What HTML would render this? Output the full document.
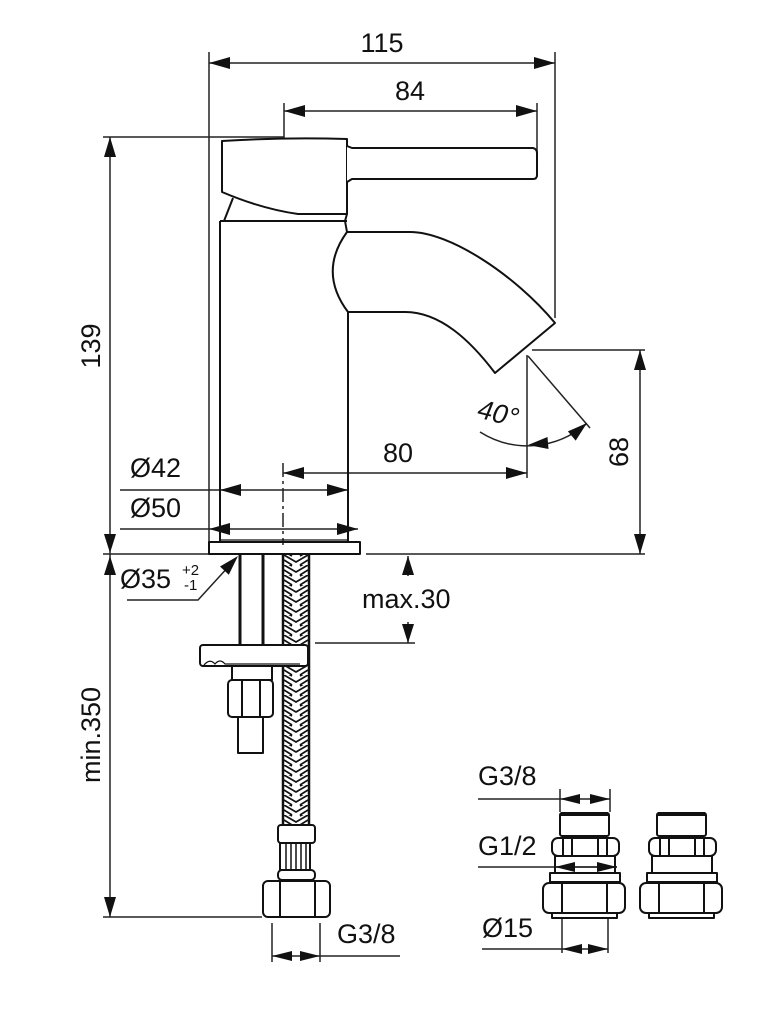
<!DOCTYPE html>
<html><head><meta charset="utf-8"><style>
html,body{margin:0;padding:0;background:#fff;}
svg{display:block;}
text{font-family:"Liberation Sans",Arial,sans-serif;fill:#111;}
</style></head><body>
<svg width="780" height="1024" viewBox="0 0 780 1024" xmlns="http://www.w3.org/2000/svg">
<defs>
<pattern id="braid" x="284" y="555" width="24" height="10" patternUnits="userSpaceOnUse">
<rect width="24" height="10" fill="#fff"/>
<path d="M0,0 L12,7 L24,0 M0,5 L8,10 M24,5 L16,10 M-1,-4 L8,1 M25,-4 L16,1" stroke="#111" stroke-width="1.7" fill="none"/>
</pattern>
</defs>
<g fill="none" stroke="#222" stroke-width="1.5">
<!-- 115 dim -->
<line x1="209" y1="52" x2="209" y2="542"/>
<line x1="555" y1="52" x2="555" y2="318"/>
<line x1="209" y1="63" x2="555" y2="63"/>
<!-- 84 dim -->
<line x1="284" y1="103" x2="284" y2="139"/>
<line x1="537" y1="103" x2="537" y2="177"/>
<line x1="284" y1="111" x2="537" y2="111"/>
<!-- 139 / min350 -->
<line x1="103" y1="137" x2="284" y2="137"/>
<line x1="110" y1="137" x2="110" y2="917"/>
<line x1="103" y1="554" x2="209" y2="554"/>
<line x1="103" y1="917" x2="262" y2="917"/>
<!-- ground right -->
<line x1="366" y1="554" x2="645" y2="554"/>
<!-- 68 -->
<line x1="532" y1="350" x2="645" y2="350"/>
<line x1="640" y1="350" x2="640" y2="554"/>
<!-- 40 deg -->
<line x1="527" y1="355" x2="527" y2="478"/>
<line x1="528" y1="356" x2="590" y2="428"/>
<path d="M480,432 A89,89 0 0,0 586,424"/>
<!-- 80 -->
<line x1="283" y1="473" x2="527" y2="473"/>
<line x1="283" y1="463" x2="283" y2="545" stroke-dasharray="14,4,3,4"/>
<!-- Ø42 Ø50 -->
<line x1="120" y1="490" x2="348" y2="490"/>
<line x1="120" y1="529" x2="358" y2="529"/>
<!-- Ø35 leader -->
<polyline points="127,600 198,600 230,565"/>
<!-- max30 -->
<line x1="315" y1="643" x2="415" y2="643"/>
<line x1="408" y1="556" x2="408" y2="576"/>
<line x1="408" y1="622" x2="408" y2="643"/>
<!-- G3/8 bottom -->
<line x1="272" y1="923" x2="272" y2="962"/>
<line x1="320" y1="923" x2="320" y2="962"/>
<line x1="272" y1="956" x2="400" y2="956"/>
<!-- right fittings dims -->
<line x1="478" y1="799" x2="610" y2="799"/>
<line x1="560" y1="789" x2="560" y2="812"/>
<line x1="610" y1="789" x2="610" y2="812"/>
<line x1="478" y1="867" x2="617" y2="867"/>
<line x1="482" y1="949" x2="608" y2="949"/>
<line x1="562" y1="918" x2="562" y2="953"/>
<line x1="608" y1="918" x2="608" y2="953"/>
</g>

<!-- arrowheads -->
<g fill="#111" stroke="none">
<polygon points="209,63 230,57 230,69"/>
<polygon points="555,63 534,57 534,69"/>
<polygon points="284,111 305,105 305,117"/>
<polygon points="537,111 516,105 516,117"/>
<polygon points="110,137 104,157 116,157"/>
<polygon points="110,553 104,534 116,534"/>
<polygon points="110,556 104,575 116,575"/>
<polygon points="110,917 104,897 116,897"/>
<polygon points="640,350 634,370 646,370"/>
<polygon points="640,554 634,534 646,534"/>
<polygon points="528,445 547.5,437 548.5,449"/>
<polygon points="587,423 575.7,440.6 567.9,431.4"/>
<polygon points="283,473 304,467 304,479"/>
<polygon points="527,473 506,467 506,479"/>
<polygon points="220,490 241,484 241,496"/>
<polygon points="348,490 327,484 327,496"/>
<polygon points="209,529 230,523 230,535"/>
<polygon points="358,529 337,523 337,535"/>
<polygon points="238,556 228.8,574.7 220,566.5"/>
<polygon points="408,556 402,575 414,575"/>
<polygon points="408,643 402,624 414,624"/>
<polygon points="272,956 292,951 292,961"/>
<polygon points="320,956 300,951 300,961"/>
<polygon points="560,799 580,794 580,804"/>
<polygon points="610,799 590,794 590,804"/>
<polygon points="562,949 582,944 582,954"/>
<polygon points="608,949 588,944 588,954"/>
</g>

<!-- faucet body -->
<g fill="none" stroke="#111" stroke-width="2" stroke-linejoin="round">
<path d="M222,141 Q285,137 347,139 L347,214 L298,214 Q262,209 222,192 Z" fill="#fff"/>
<path d="M347,146 L352,148 L533,148 Q537,149 537,153 L537,175 Q537,179 533,179 L352,179 L347,182" fill="#fff"/>
<line x1="233" y1="198" x2="224" y2="221"/>
<line x1="220" y1="221" x2="347" y2="221"/>
<path d="M347,214 L345,221 L347,232"/>
<line x1="220" y1="221" x2="220" y2="542"/>
<line x1="348" y1="312" x2="348" y2="542"/>
<path d="M347,232 L410,232 C450,232 515,275 555,323 L495,373 C470,340 440,312 405,312 L348,312"/>
<path d="M347,232 Q318,272 348,312"/>
<line x1="220" y1="540" x2="348" y2="540" stroke-width="1.3"/>
<rect x="209" y="542" width="151" height="12"/>
<line x1="240" y1="555" x2="240" y2="645" stroke-width="3"/>
<line x1="263" y1="555" x2="263" y2="645" stroke-width="3"/>
</g>

<!-- hose -->
<rect x="284" y="555" width="24" height="270" fill="url(#braid)"/>
<g fill="none" stroke="#111" stroke-width="2.5">
<line x1="283" y1="555" x2="283" y2="825"/>
<line x1="309" y1="555" x2="309" y2="825"/>
</g>

<!-- clamp and nut -->
<g fill="#fff" stroke="#111" stroke-width="2" stroke-linejoin="round">
<rect x="200" y="645" width="108" height="21" rx="3"/>
<path d="M204,665 Q210,658 215,664 Q220,658 225,664 L300,664" fill="none" stroke-width="1.3"/>
<rect x="232" y="666" width="40" height="14"/>
<rect x="228" y="680" width="45" height="37" rx="4"/>
<line x1="242" y1="681" x2="242" y2="716"/>
<line x1="260" y1="681" x2="260" y2="716"/>
<rect x="238" y="717" width="25" height="36"/>
</g>

<!-- hose end fitting -->
<g fill="#fff" stroke="#111" stroke-width="2" stroke-linejoin="round">
<rect x="278" y="825" width="37" height="18" rx="3"/>
<rect x="280" y="843" width="30" height="27"/>
<g stroke-width="1.5"><line x1="286" y1="843" x2="286" y2="870"/><line x1="291" y1="843" x2="291" y2="870"/><line x1="296" y1="843" x2="296" y2="870"/><line x1="301" y1="843" x2="301" y2="870"/><line x1="306" y1="843" x2="306" y2="870"/></g>
<rect x="278" y="870" width="37" height="10" rx="4"/>
<rect x="263" y="881" width="67" height="36" rx="5"/>
<line x1="280" y1="882" x2="280" y2="916"/>
<line x1="315" y1="882" x2="315" y2="916"/>
</g>

<!-- right fittings -->
<g fill="#fff" stroke="#111" stroke-width="2" stroke-linejoin="round">
<g>
<rect x="560" y="813" width="49" height="23" rx="2"/>
<line x1="561" y1="814" x2="608" y2="814" stroke-width="4"/>
<rect x="552" y="838" width="67" height="18" rx="6"/>
<line x1="563" y1="839" x2="563" y2="855"/><line x1="572" y1="839" x2="572" y2="855"/>
<line x1="598" y1="839" x2="598" y2="855"/><line x1="607" y1="839" x2="607" y2="855"/>
<rect x="555" y="856" width="60" height="17" fill="none"/>
<rect x="550" y="873" width="70" height="9"/>
<rect x="543" y="883" width="82" height="30" rx="6"/>
<line x1="562" y1="884" x2="562" y2="912"/><line x1="607" y1="884" x2="607" y2="912"/>
<rect x="552" y="913" width="65" height="5"/>
</g>
<g transform="translate(97,0)">
<rect x="560" y="813" width="49" height="23" rx="2"/>
<line x1="561" y1="814" x2="608" y2="814" stroke-width="4"/>
<rect x="552" y="838" width="67" height="18" rx="6"/>
<line x1="563" y1="839" x2="563" y2="855"/><line x1="572" y1="839" x2="572" y2="855"/>
<line x1="598" y1="839" x2="598" y2="855"/><line x1="607" y1="839" x2="607" y2="855"/>
<rect x="555" y="856" width="60" height="17"/>
<rect x="550" y="873" width="70" height="9"/>
<rect x="543" y="883" width="82" height="30" rx="6"/>
<line x1="562" y1="884" x2="562" y2="912"/><line x1="607" y1="884" x2="607" y2="912"/>
<rect x="552" y="913" width="65" height="5"/>
</g>
</g>
<g fill="#111">
<line x1="555" y1="867" x2="617" y2="867" stroke="#222" stroke-width="1.5"/>
<polygon points="555,867 575,862 575,872"/>
<polygon points="617,867 597,862 597,872"/>
</g>

<!-- texts -->
<g font-size="27">
<text x="382" y="52" text-anchor="middle">115</text>
<text x="410" y="100" text-anchor="middle">84</text>
<text x="398" y="462" text-anchor="middle">80</text>
<text x="130" y="477">Ø42</text>
<text x="130" y="517">Ø50</text>
<text x="120" y="588">Ø35</text>
<text x="362" y="608">max.30</text>
<text x="337" y="943">G3/8</text>
<text x="478" y="785">G3/8</text>
<text x="478" y="855">G1/2</text>
<text x="482" y="937">Ø15</text>
<text transform="translate(100,346) rotate(-90)" text-anchor="middle">139</text>
<text transform="translate(100,735) rotate(-90)" text-anchor="middle">min.350</text>
<text transform="translate(628,452) rotate(-90)" text-anchor="middle">68</text>
<text transform="translate(495,422) rotate(14) skewX(-8)" text-anchor="middle">40°</text>
</g>
<text x="182" y="575" font-size="15">+2</text>
<text x="184" y="590" font-size="15">-1</text>
</svg>
</body></html>
